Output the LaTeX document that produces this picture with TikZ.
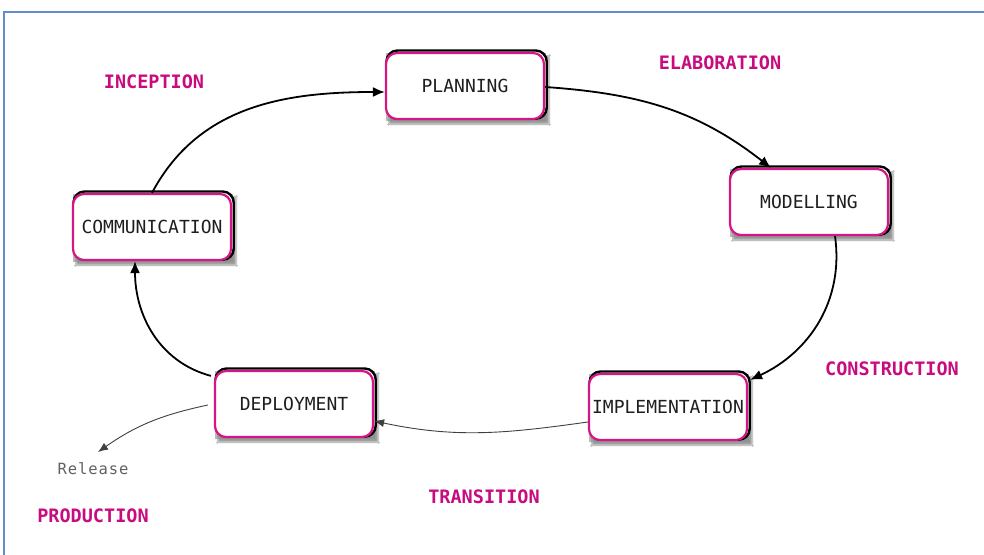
\documentclass[tikz,border=0pt]{standalone}
\usepackage{fontspec}
\usetikzlibrary{arrows.meta,backgrounds,shadows.blur}
\newfontfamily\boxfont{DejaVu Sans Mono}
\newfontfamily\stagefont{DejaVu Sans Mono Bold}
\newfontfamily\relfont{DejaVu Sans Mono}[LetterSpace=6]
\definecolor{mag}{RGB}{214,22,132}
\definecolor{stagecol}{RGB}{200,12,128}
\definecolor{framecol}{RGB}{98,142,206}
\definecolor{boxtext}{RGB}{30,30,30}
\tikzset{
  phase/.style={draw=mag, line width=2.2pt, fill=white, rounded corners=11pt,
    minimum width=158pt, minimum height=66pt, inner sep=0pt,
    font=\boxfont\fontsize{18}{21}\selectfont, text=boxtext},
  stage/.style={font=\stagefont\fontsize{18.5}{21}\selectfont, text=stagecol, inner sep=0pt},
  flow/.style={draw=black, line width=1.8pt, -{Latex[length=12pt,width=10pt]}},
  thinflow/.style={draw=black!75, line width=0.9pt, -{Latex[length=10pt,width=8pt]}},
  edge/.style={draw=black, line width=2.4pt, rounded corners=11pt},
}
\begin{document}
\begin{tikzpicture}[x=1pt,y=1pt]
  \useasboundingbox (0,0) rectangle (984,554);

  % process steps
  \node[phase] (plan)   at (465,468) {PLANNING};
  \node[phase] (comm)   at (152,327) {COMMUNICATION};
  \node[phase] (model)  at (809,352) {MODELLING};
  \node[phase] (impl)   at (668,147) {IMPLEMENTATION};
  \node[phase] (deploy) at (294,150) {DEPLOYMENT};

  % page fill, frame, then dark rims and soft shadows behind each step
  \begin{scope}[on background layer]
    \fill[white] (0,0) rectangle (984,554);
    \draw[framecol, line width=1.6pt] (4,-20) -- (4,542) -- (1000,542);
    \foreach \n in {plan,comm,model,impl,deploy}{
      \fill[black!45, opacity=0.6, blur shadow={shadow xshift=3pt, shadow yshift=-3pt, shadow blur steps=6}]
        ([shift={(1pt,-1pt)}]\n.south west) rectangle ([shift={(1pt,-1pt)}]\n.north east);
      \draw[edge, fill=white] ([shift={(1.6pt,1.4pt)}]\n.south west) rectangle ([shift={(1.6pt,1.4pt)}]\n.north east);
    }
  \end{scope}

  % stage labels
  \node[stage] (inc)  at (154,472) {INCEPTION};
  \node[stage] (ela)  at (720,491) {ELABORATION};
  \node[stage] (con)  at (892,185) {CONSTRUCTION};
  \node[stage] (tra)  at (484,57)  {TRANSITION};
  \node[stage] (prod) at (93,38)   {PRODUCTION};
  \node[font=\relfont\fontsize{15.5}{18}\selectfont, text=black!62, inner sep=0pt] (rel) at (93,85) {Release};
  \coordinate (reltip) at (98,102);

  % cycle connectors
  \draw[flow] (comm.north) to[out=62,in=180] ([yshift=-6pt]plan.west);
  \draw[flow] ([yshift=-1pt]plan.east) to[out=-4,in=142] ([xshift=-38pt]model.north);
  \draw[flow] ([xshift=26pt]model.south) to[out=-82,in=25] ([shift={(2pt,-7pt)}]impl.north east);
  \draw[thinflow] ([yshift=-15pt]impl.west) to[out=188,in=-12] ([yshift=-17pt]deploy.east);
  \draw[flow] ([shift={(-3pt,-6pt)}]deploy.north west) to[out=165,in=-90] ([xshift=-17pt]comm.south);
  \draw[thinflow] ([shift={(-6pt,-1pt)}]deploy.west) to[out=192,in=35] (reltip);
\end{tikzpicture}
\end{document}
